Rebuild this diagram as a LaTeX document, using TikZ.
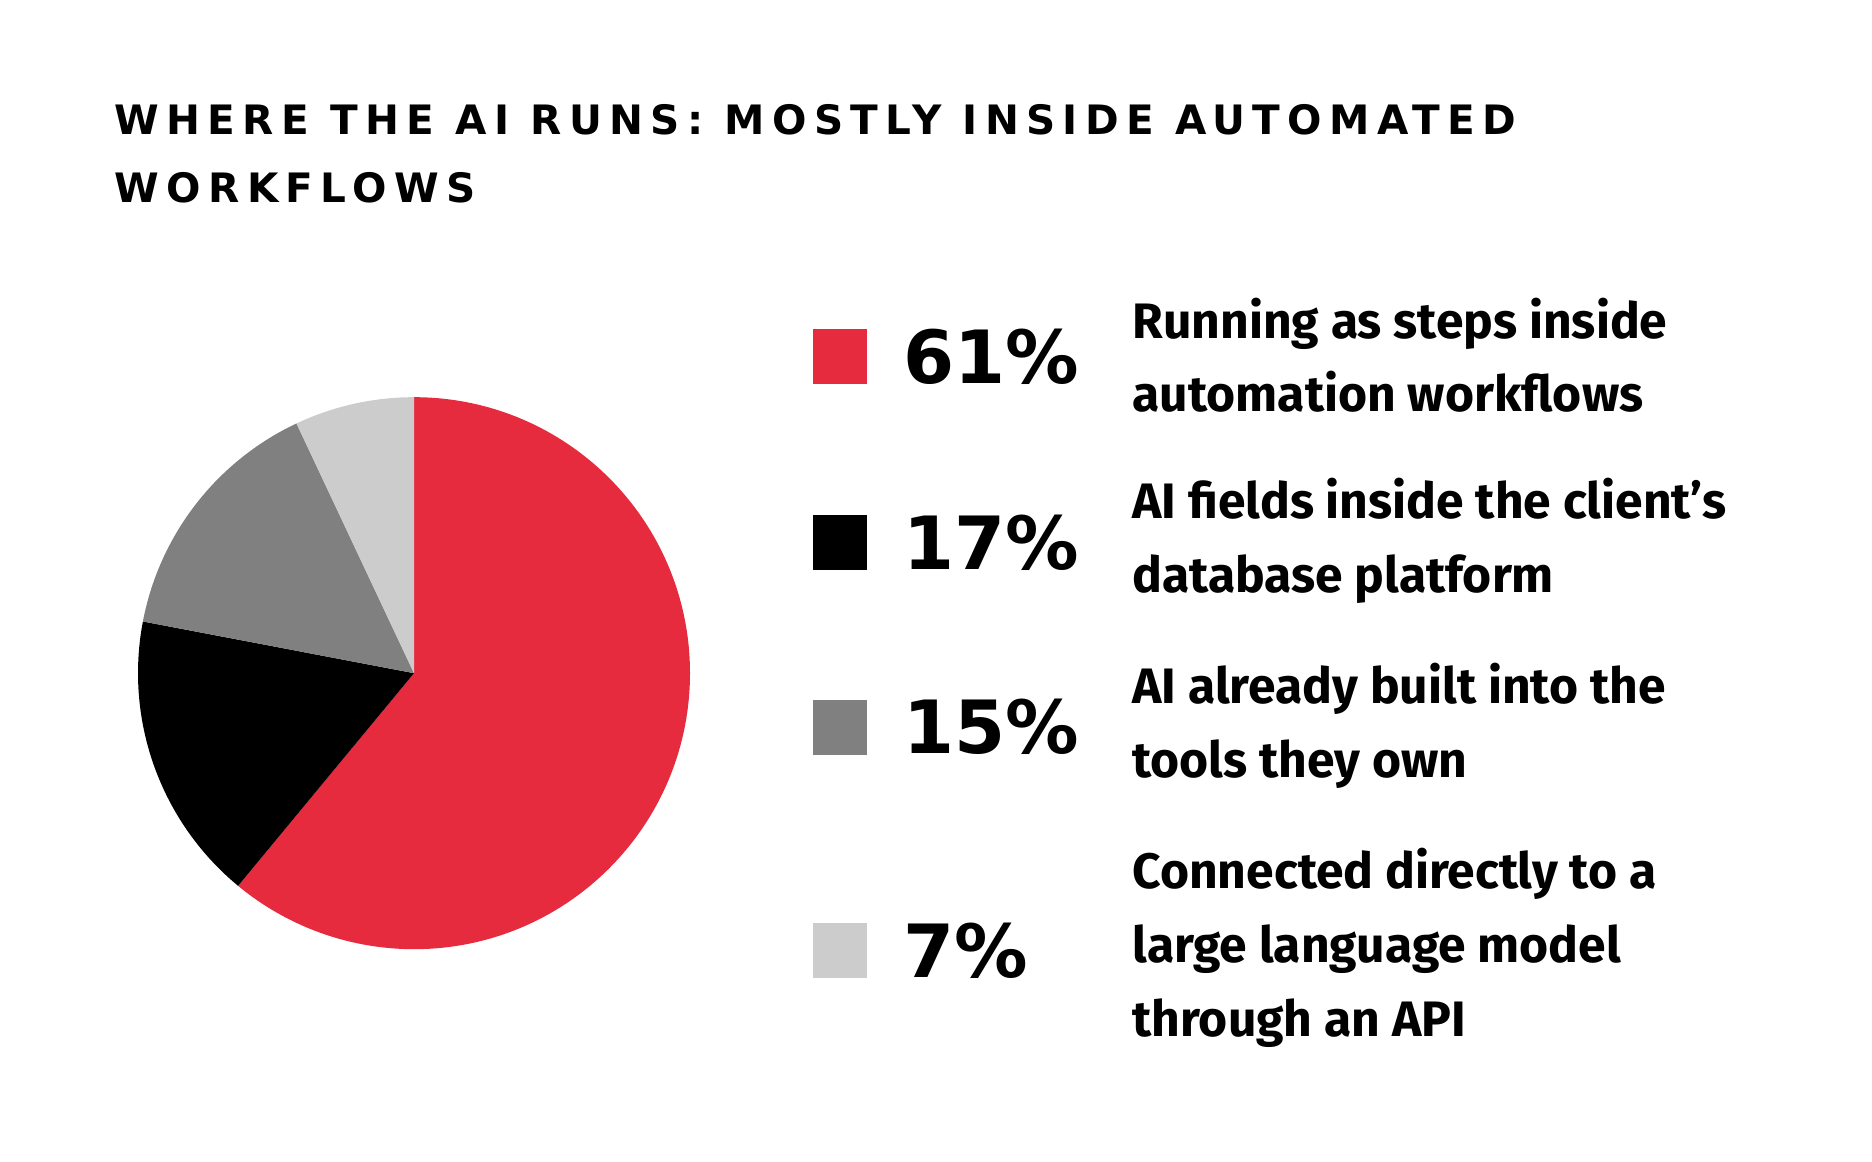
\documentclass[tikz,border=0pt]{standalone}
\usepackage{fontspec}
\setmainfont{Fira Sans}
\newfontfamily\heavyfont{DejaVu Sans}
\newfontfamily\titlefont[LetterSpace=18]{DejaVu Sans}
\definecolor{pieRed}{HTML}{E62B3F}
\definecolor{pieGray}{HTML}{808080}
\definecolor{pieLight}{HTML}{CCCCCC}
\tikzset{
    swatch/.style={minimum size=13pt,inner sep=0pt,draw=none},
    pct/.style={anchor=west,inner sep=0pt,font=\heavyfont\bfseries\fontsize{17.4}{18}\selectfont},
    desc/.style={anchor=west,inner sep=0pt,align=left,font=\bfseries\fontsize{11.8}{17.5}\selectfont}
}
\begin{document}
\begin{tikzpicture}[x=0.01cm,y=-0.01cm]
    \useasboundingbox (0,0) rectangle (1560,968);
    % title
    \node[anchor=north west,inner sep=0pt,align=left,
        font=\titlefont\bfseries\fontsize{9.6}{16.3}\selectfont] (title)
        at (95,86) {WHERE THE AI RUNS: MOSTLY INSIDE AUTOMATED\\WORKFLOWS};
    % pie
    \coordinate (centre) at (345,561);
    \fill[pieRed]   (centre) -- ++(-90:230)  arc[start angle=-90,end angle=129.6,radius=230] -- cycle;
    \fill[black]    (centre) -- ++(129.6:230) arc[start angle=129.6,end angle=190.8,radius=230] -- cycle;
    \fill[pieGray]  (centre) -- ++(190.8:230) arc[start angle=190.8,end angle=244.8,radius=230] -- cycle;
    \fill[pieLight] (centre) -- ++(244.8:230) arc[start angle=244.8,end angle=270,radius=230] -- cycle;
    % legend
    \node[swatch,fill=pieRed]   (swRed)   at (700,297) {};
    \node[swatch,fill=black]    (swBlack) at (700,452) {};
    \node[swatch,fill=pieGray]  (swGray)  at (700,606) {};
    \node[swatch,fill=pieLight] (swLight) at (700,792) {};
    \node[pct] (pctRed)   at (752,297) {61\%};
    \node[pct] (pctBlack) at (752,452) {17\%};
    \node[pct] (pctGray)  at (752,606) {15\%};
    \node[pct] (pctLight) at (752,792) {7\%};
    \node[desc] (descRed)   at (943,296) {Running as steps inside\\automation workflows};
    \node[desc] (descBlack) at (943,451) {AI fields inside the client’s\\database platform};
    \node[desc] (descGray)  at (943,605) {AI already built into the\\tools they own};
    \node[desc] (descLight) at (943,790) {Connected directly to a\\large language model\\through an API};
\end{tikzpicture}
\end{document}
